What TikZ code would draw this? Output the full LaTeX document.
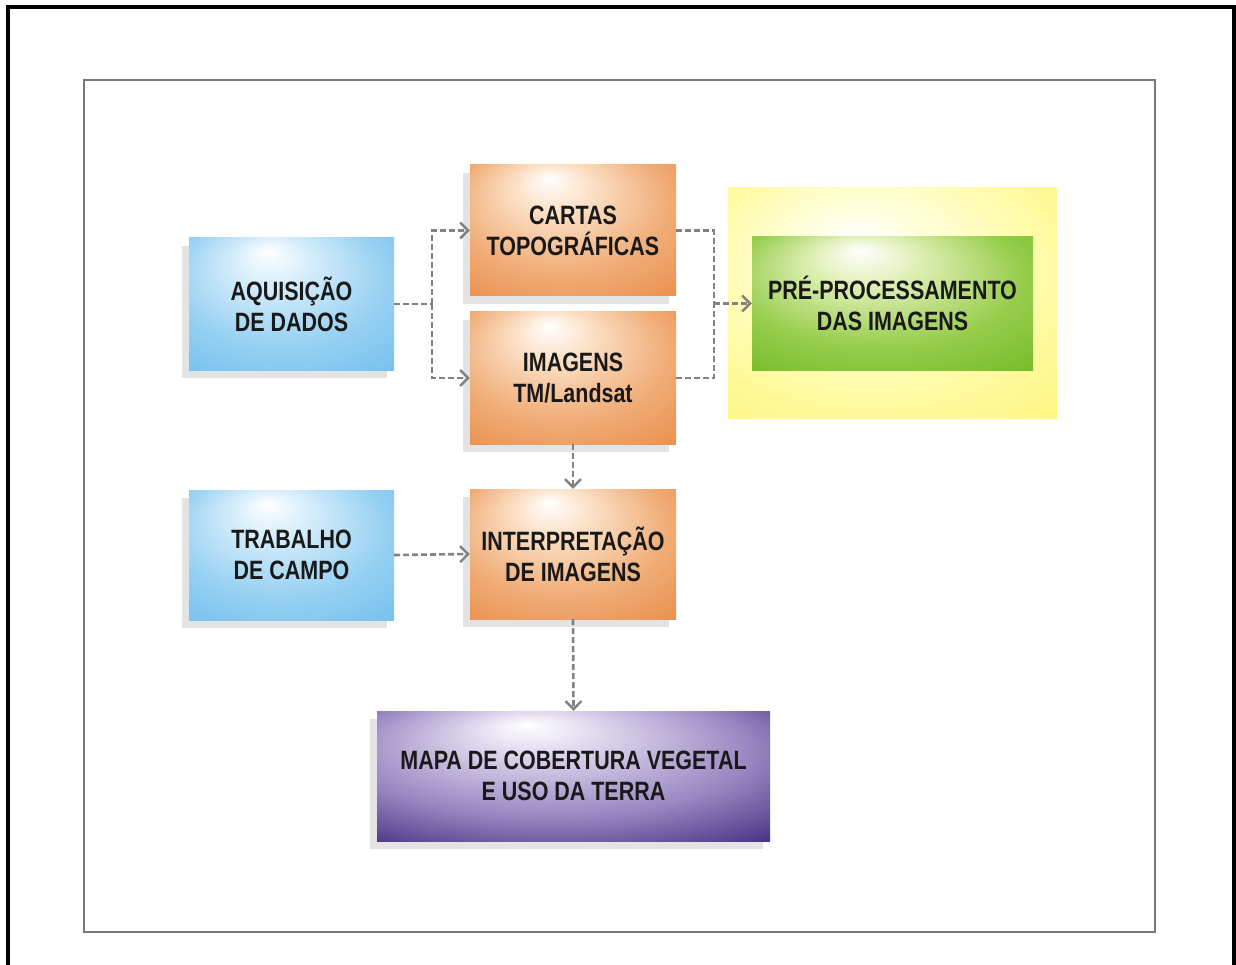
\documentclass[tikz,border=0pt]{standalone}
\usepackage{fontspec}
\newfontfamily\boxfont{Liberation Sans}[FakeStretch=0.81]
\usetikzlibrary{arrows.meta}
\definecolor{bluehi}{RGB}{215,238,252}
\definecolor{bluebase}{RGB}{150,208,242}
\definecolor{bluedark}{RGB}{105,188,236}
\definecolor{orhi}{RGB}{252,225,200}
\definecolor{orbase}{RGB}{240,172,118}
\definecolor{ordark}{RGB}{232,135,65}
\definecolor{grhi}{RGB}{225,240,185}
\definecolor{grbase}{RGB}{150,205,75}
\definecolor{grdark}{RGB}{108,182,32}
\definecolor{yehi}{RGB}{255,255,220}
\definecolor{yebase}{RGB}{255,250,160}
\definecolor{yedark}{RGB}{255,244,115}
\definecolor{puhi}{RGB}{220,212,236}
\definecolor{pubase}{RGB}{150,132,192}
\definecolor{pudark}{RGB}{45,25,110}
\definecolor{arrowgray}{RGB}{130,130,130}
\definecolor{framegray}{RGB}{120,120,120}
\definecolor{txt}{RGB}{25,25,25}
\pgfdeclareradialshading{blueglow}{\pgfpoint{-6bp}{20bp}}{color(0bp)=(white); color(9bp)=(bluehi); color(26bp)=(bluebase); color(44bp)=(bluedark); color(50bp)=(bluedark)}
\pgfdeclareradialshading{orangeglow}{\pgfpoint{-6bp}{20bp}}{color(0bp)=(white); color(9bp)=(orhi); color(26bp)=(orbase); color(44bp)=(ordark); color(50bp)=(ordark)}
\pgfdeclareradialshading{greenglow}{\pgfpoint{-6bp}{20bp}}{color(0bp)=(white); color(9bp)=(grhi); color(26bp)=(grbase); color(44bp)=(grdark); color(50bp)=(grdark)}
\pgfdeclareradialshading{yellowglow}{\pgfpoint{-6bp}{14bp}}{color(0bp)=(white); color(10bp)=(yehi); color(28bp)=(yebase); color(44bp)=(yedark); color(50bp)=(yedark)}
\pgfdeclareradialshading{purpleglow}{\pgfpoint{-6bp}{20bp}}{color(0bp)=(white); color(9bp)=(puhi); color(26bp)=(pubase); color(44bp)=(pudark); color(50bp)=(pudark)}
\tikzset{
  box/.style={rectangle, inner sep=0pt, align=center, text=txt,
    font=\boxfont\bfseries\fontsize{26.5}{31}\selectfont},
  shadowed/.style={preaction={fill=black!11, transform canvas={xshift=-7pt,yshift=-8pt}}},
  dl/.style={draw=arrowgray, line width=2.6pt, dash pattern=on 6pt off 3pt},
  arr/.style={dl, -{Straight Barb[length=8pt,width=16pt,line width=2.4pt]}}
}
\begin{document}
\begin{tikzpicture}[x=1pt,y=-1pt]
\useasboundingbox (0,0) rectangle (1236,965);
\draw[line width=4pt] (7.5,970) -- (7.5,7.5) -- (1234,7.5) -- (1234,970);
\draw[framegray, line width=2pt] (84,80) rectangle (1155,932);

\node[box, shadowed, shading=blueglow, minimum width=205pt, minimum height=132pt] (aq) at (291.5,304) {AQUISIÇÃO\\DE DADOS};
\node[box, shadowed, shading=orangeglow, minimum width=206pt, minimum height=131pt] (cartas) at (573,230.5) {CARTAS\\TOPOGRÁFICAS};
\node[box, shadowed, shading=orangeglow, minimum width=206pt, minimum height=132pt] (img) at (573,378) {IMAGENS\\TM/Landsat};
\node[rectangle, shading=yellowglow, minimum width=329pt, minimum height=230pt] (yel) at (892.5,303) {};
\node[box, shading=greenglow, minimum width=281pt, minimum height=133pt] (pre) at (892.5,303.5) {PRÉ-PROCESSAMENTO\\DAS IMAGENS};
\node[box, shadowed, shading=blueglow, minimum width=205pt, minimum height=130pt] (trab) at (291.5,555) {TRABALHO\\DE CAMPO};
\node[box, shadowed, shading=orangeglow, minimum width=206pt, minimum height=130pt] (interp) at (573,554) {INTERPRETAÇÃO\\DE IMAGENS};
\node[box, shadowed, shading=purpleglow, minimum width=393pt, minimum height=130pt] (mapa) at (573.5,776) {MAPA DE COBERTURA VEGETAL\\E USO DA TERRA};

\coordinate (j1) at (432,304);
\coordinate (j2) at (714,303.5);
\draw[dl] (aq.east) -- (j1);
\draw[arr] (j1) |- (cartas.west);
\draw[arr] (j1) |- (img.west);
\draw[dl] (cartas.east) -| (j2);
\draw[dl] (img.east) -| (j2);
\draw[arr] (j2) -- (pre.west);
\draw[arr] (img.south) -- (interp.north);
\draw[arr] (trab.east) -- (interp.west);
\draw[arr] (interp.south) -- (mapa.north);
\end{tikzpicture}
\end{document}
